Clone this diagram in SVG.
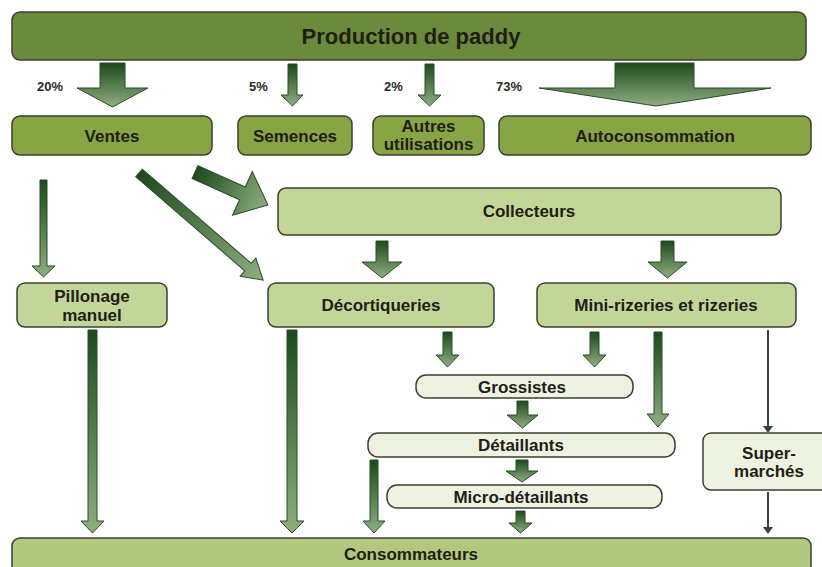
<svg xmlns="http://www.w3.org/2000/svg" width="822" height="567" viewBox="0 0 822 567">
<defs>
<linearGradient id="gv" x1="0" y1="0" x2="0" y2="1"><stop offset="0" stop-color="#1c4a1c"/><stop offset="1" stop-color="#8fae80"/></linearGradient>
<linearGradient id="gh" x1="0" y1="0" x2="1" y2="0"><stop offset="0" stop-color="#1c4a1c"/><stop offset="1" stop-color="#8fae80"/></linearGradient>
<style>
.box{stroke:#3b3f30;stroke-width:1.5}
.dk{fill:#6c8a3b}
.md{fill:#87a545}
.lt{fill:#c3d69a}
.pl{fill:#eef2e0}
.cs{fill:#b3c87f}
.t{font-family:"Liberation Sans",Arial,sans-serif;font-weight:bold;font-size:17px;fill:#1e2016;text-anchor:middle}
.big{font-size:22px}
.p{font-family:"Liberation Sans",Arial,sans-serif;font-weight:bold;font-size:13px;fill:#2a2a2a}
.av{fill:url(#gv);stroke:#2a4a2a;stroke-width:1}
.ah{fill:url(#gh);stroke:#2a4a2a;stroke-width:1}
.ln{stroke:#2f4a2f;stroke-width:2;fill:none}
.hd{fill:#2f4a2f}
</style>
</defs>
<g id="production"><rect class="box dk" x="12" y="12" width="794" height="48" rx="8"/><text class="t big" x="411" y="44">Production de paddy</text></g>
<g id="labels"><text class="p" x="37" y="91">20%</text><text class="p" x="249" y="91">5%</text><text class="p" x="384" y="91">2%</text><text class="p" x="496" y="91">73%</text></g>
<g id="ventes"><rect class="box md" x="12" y="116" width="200" height="39" rx="8"/><text class="t" x="112" y="142">Ventes</text></g>
<g id="semences"><rect class="box md" x="238" y="116" width="114" height="39" rx="8"/><text class="t" x="295" y="142">Semences</text></g>
<g id="autres"><rect class="box md" x="373" y="116" width="111" height="39" rx="8"/><text class="t" x="428.5" y="132">Autres</text><text class="t" x="428.5" y="150">utilisations</text></g>
<g id="autoconsommation"><rect class="box md" x="499" y="116" width="312" height="39" rx="8"/><text class="t" x="655" y="142">Autoconsommation</text></g>
<g id="collecteurs"><rect class="box lt" x="278" y="188" width="503" height="47" rx="8"/><text class="t" x="529" y="217">Collecteurs</text></g>
<g id="pillonage"><rect class="box lt" x="17" y="283" width="150" height="44" rx="8"/><text class="t" x="92" y="302">Pillonage</text><text class="t" x="92" y="321">manuel</text></g>
<g id="decortiqueries"><rect class="box lt" x="268" y="283" width="226" height="44" rx="8"/><text class="t" x="381" y="311">Décortiqueries</text></g>
<g id="mini-rizeries"><rect class="box lt" x="537" y="283" width="259" height="44" rx="8"/><text class="t" x="666" y="311">Mini-rizeries et rizeries</text></g>
<g id="grossistes"><rect class="box pl" x="416" y="375" width="217" height="23" rx="10"/><text class="t" x="522" y="393">Grossistes</text></g>
<g id="detaillants"><rect class="box pl" x="368" y="433" width="307" height="24" rx="10"/><text class="t" x="521" y="451">Détaillants</text></g>
<g id="micro-detaillants"><rect class="box pl" x="387" y="485" width="275" height="23" rx="10"/><text class="t" x="521" y="503">Micro-détaillants</text></g>
<g id="supermarches"><rect class="box pl" x="703" y="433" width="130" height="57" rx="8"/><text class="t" x="769" y="459">Super-</text><text class="t" x="769" y="477">marchés</text></g>
<g id="consommateurs"><rect class="box cs" x="12" y="538" width="799" height="40" rx="8"/><text class="t" x="411" y="560">Consommateurs</text></g>
<g id="connectors">
<polygon class="av" points="100,63 125,63 125,88 148,88 112.5,107 77,88 100,88"/>
<polygon class="av" points="288,64 297,64 297,95 303,95 292.5,106 281,95 288,95"/>
<polygon class="av" points="425,64 434,64 434,95 441,95 429.5,106 418,95 425,95"/>
<polygon class="av" points="615,63 694,63 694,88 771,88 656,106 539,88 615,88"/>
<polygon class="av" points="40,180 47,180 47,266 55,266 43.5,277 32,266 40,266"/>
<polygon class="ah" transform="translate(195,172) rotate(24.3)" points="0,-7 52,-7 52,-24 80,0 52,24 52,7 0,7"/>
<polygon class="ah" transform="translate(139,173) rotate(40.8)" points="0,-5 144,-5 144,-12 164,0 144,12 144,5 0,5"/>
<polygon class="av" points="376,241 388,241 388,262 402,262 382,278 362,262 376,262"/>
<polygon class="av" points="661,241 674,241 674,262 687,262 667.5,278 648,262 661,262"/>
<polygon class="av" points="88,330 97,330 97,521 104,521 92.5,533 81,521 88,521"/>
<polygon class="av" points="287,330 297,330 297,521 304,521 292,533 280,521 287,521"/>
<polygon class="av" points="443,332 452,332 452,355 459,355 447.5,367 436,355 443,355"/>
<polygon class="av" points="590,332 599,332 599,355 606,355 594.5,367 583,355 590,355"/>
<polygon class="av" points="654,332 662,332 662,414 669,414 658,427 647,414 654,414"/>
<line class="ln" x1="768" y1="330" x2="768" y2="427"/><polygon class="hd" points="763,426 773,426 768,433"/>
<polygon class="av" points="517,401 528,401 528,415 538,415 522.5,428 507,415 517,415"/>
<polygon class="av" points="516,460 528,460 528,471 538,471 522,482 506,471 516,471"/>
<polygon class="av" points="516,511 525,511 525,523 532,523 520.5,533 509,523 516,523"/>
<polygon class="av" points="370,460 378,460 378,521 385,521 374,533 363,521 370,521"/>
<line class="ln" x1="768" y1="492" x2="768" y2="528"/><polygon class="hd" points="763,527 773,527 768,534"/>
</g>
</svg>
